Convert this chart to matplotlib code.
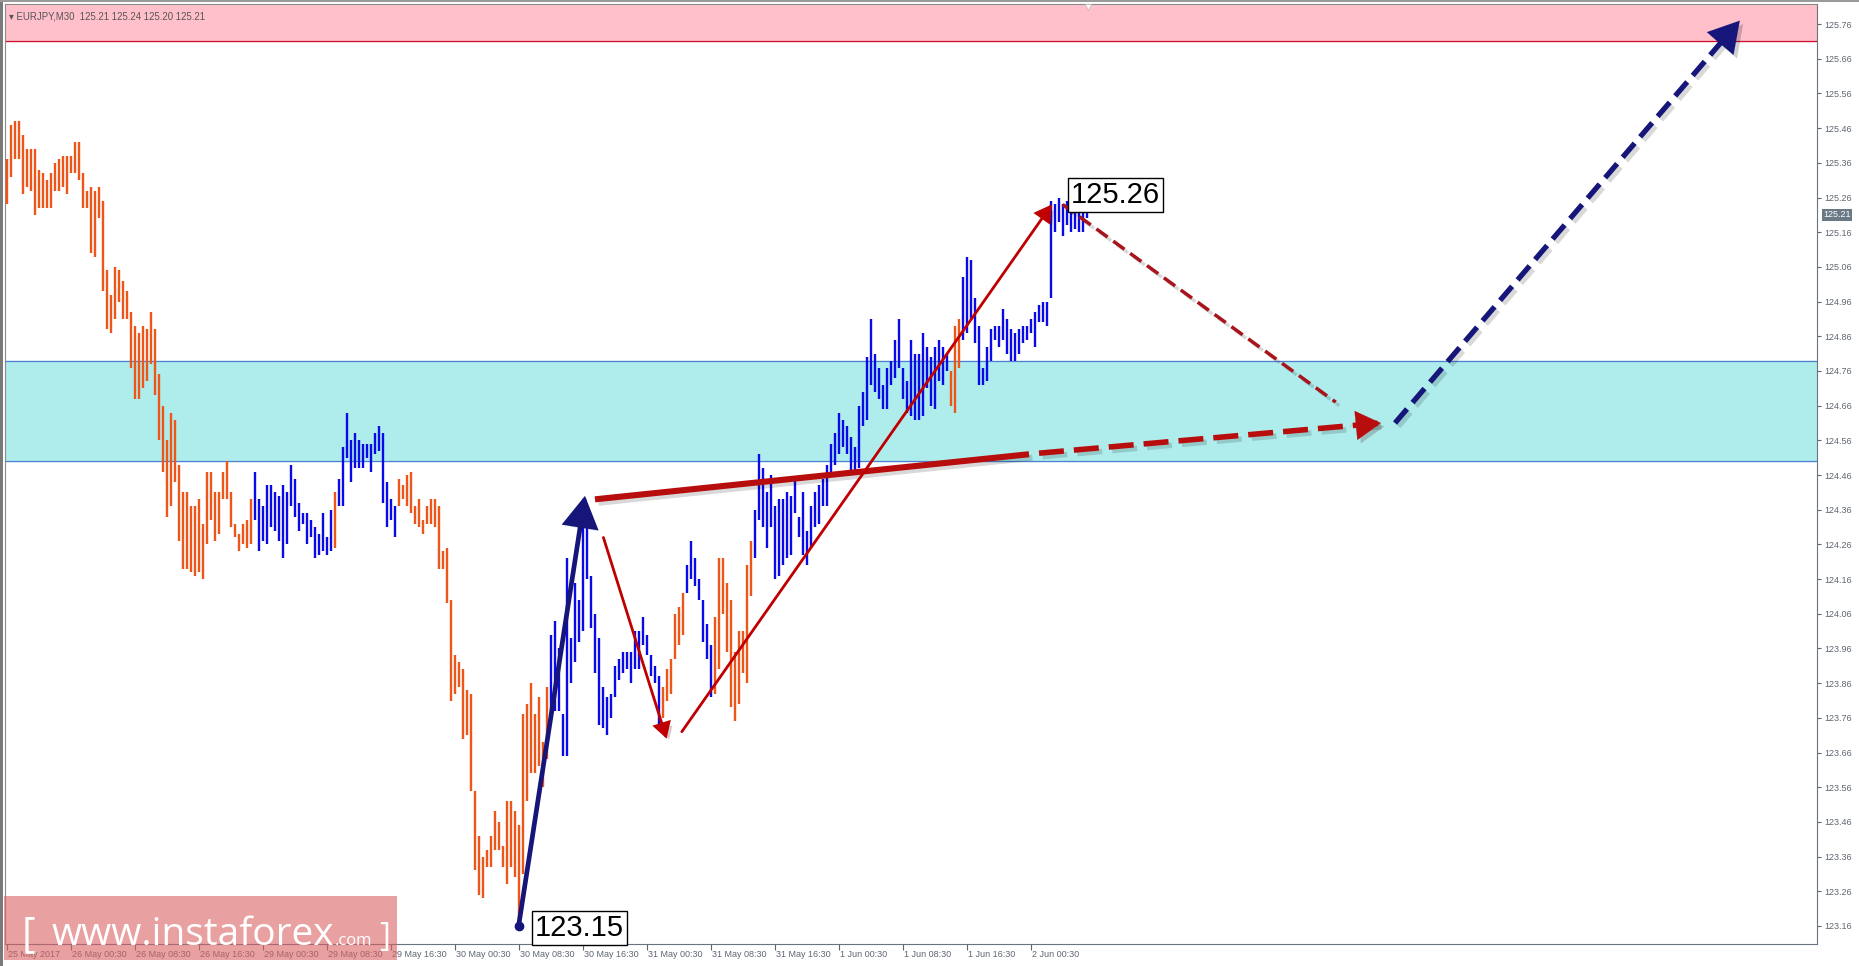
import matplotlib
matplotlib.use("Agg")
import matplotlib.pyplot as plt
import matplotlib.patheffects as pe
from matplotlib.patches import FancyArrowPatch, Rectangle
from matplotlib.transforms import blended_transform_factory

# EURJPY M30 bars (high / low), one per 30 minutes
highs = [125.37, 125.47, 125.48, 125.48, 125.44, 125.40, 125.40, 125.40, 125.34, 125.33,
         125.31, 125.33, 125.36, 125.37, 125.38, 125.38, 125.38, 125.42, 125.42, 125.33,
         125.28, 125.29, 125.28, 125.29, 125.25, 125.05, 124.98, 125.06, 125.05, 125.02,
         124.99, 124.93, 124.89, 124.87, 124.89, 124.88, 124.93, 124.88, 124.75, 124.66,
         124.56, 124.64, 124.62, 124.49, 124.41, 124.41, 124.37, 124.37, 124.39, 124.32,
         124.47, 124.47, 124.41, 124.41, 124.47, 124.50, 124.41, 124.32, 124.29, 124.32,
         124.33, 124.39, 124.47, 124.39, 124.37, 124.43, 124.43, 124.41, 124.40, 124.43,
         124.41, 124.49, 124.45, 124.38, 124.35, 124.35, 124.33, 124.31, 124.29, 124.35,
         124.28, 124.36, 124.41, 124.45, 124.54, 124.64, 124.56, 124.58, 124.56, 124.55,
         124.55, 124.55, 124.58, 124.60, 124.58, 124.44, 124.39, 124.37, 124.45, 124.43,
         124.46, 124.47, 124.37, 124.39, 124.33, 124.37, 124.39, 124.39, 124.37, 124.24,
         124.25, 124.10, 123.94, 123.92, 123.90, 123.84, 123.83, 123.55, 123.42, 123.36,
         123.38, 123.42, 123.49, 123.46, 123.39, 123.52, 123.52, 123.49, 123.45, 123.77,
         123.80, 123.86, 123.77, 123.82, 123.69, 123.85, 124.00, 124.04, 123.96, 123.77,
         124.22, 123.99, 124.15, 124.10, 124.32, 124.37, 124.17, 124.06, 123.99, 123.85,
         123.82, 123.83, 123.91, 123.93, 123.95, 123.95, 123.95, 124.01, 124.01, 124.05,
         124.00, 123.94, 123.91, 123.88, 123.85, 123.90, 123.93, 124.06, 124.08, 124.12,
         124.20, 124.27, 124.22, 124.16, 124.10, 124.03, 123.97, 124.05, 124.22, 124.22,
         124.15, 124.10, 123.95, 124.01, 124.01, 124.20, 124.27, 124.36, 124.52, 124.48,
         124.41, 124.46, 124.37, 124.39, 124.39, 124.41, 124.40, 124.45, 124.34, 124.41,
         124.30, 124.37, 124.41, 124.43, 124.45, 124.49, 124.55, 124.58, 124.64, 124.62,
         124.60, 124.57, 124.54, 124.66, 124.70, 124.80, 124.91, 124.81, 124.77, 124.72,
         124.77, 124.79, 124.85, 124.91, 124.77, 124.73, 124.85, 124.81, 124.81, 124.87,
         124.83, 124.80, 124.83, 124.85, 124.83, 124.81, 124.76, 124.89, 124.91, 125.03,
         125.09, 125.08, 124.97, 124.89, 124.77, 124.83, 124.88, 124.89, 124.89, 124.94,
         124.91, 124.88, 124.87, 124.88, 124.89, 124.89, 124.91, 124.93, 124.95, 124.96,
         124.96, 125.25, 125.24, 125.26, 125.24, 125.25, 125.23, 125.22, 125.22, 125.23,
         125.24]
lows = [125.24, 125.32, 125.37, 125.37, 125.27, 125.29, 125.28, 125.21, 125.23, 125.23,
        125.23, 125.23, 125.28, 125.28, 125.29, 125.27, 125.33, 125.33, 125.31, 125.23,
        125.23, 125.10, 125.09, 125.20, 124.99, 124.88, 124.87, 124.91, 124.96, 124.91,
        124.91, 124.77, 124.68, 124.68, 124.71, 124.73, 124.78, 124.69, 124.56, 124.47,
        124.34, 124.37, 124.44, 124.27, 124.19, 124.19, 124.18, 124.17, 124.18, 124.16,
        124.26, 124.33, 124.27, 124.29, 124.39, 124.39, 124.31, 124.28, 124.24, 124.26,
        124.25, 124.26, 124.33, 124.24, 124.27, 124.26, 124.31, 124.30, 124.27, 124.22,
        124.26, 124.37, 124.34, 124.30, 124.32, 124.26, 124.28, 124.22, 124.23, 124.24,
        124.23, 124.24, 124.25, 124.37, 124.37, 124.51, 124.44, 124.48, 124.48, 124.48,
        124.51, 124.47, 124.52, 124.53, 124.38, 124.31, 124.33, 124.28, 124.37, 124.39,
        124.37, 124.35, 124.32, 124.31, 124.29, 124.32, 124.32, 124.31, 124.19, 124.19,
        124.09, 123.81, 123.83, 123.85, 123.70, 123.71, 123.55, 123.32, 123.25, 123.24,
        123.33, 123.33, 123.38, 123.38, 123.33, 123.28, 123.33, 123.30, 123.16, 123.31,
        123.52, 123.60, 123.60, 123.62, 123.56, 123.64, 123.78, 123.78, 123.78, 123.65,
        123.65, 123.86, 123.92, 123.98, 124.01, 124.16, 124.02, 123.89, 123.74, 123.73,
        123.71, 123.76, 123.82, 123.87, 123.89, 123.90, 123.86, 123.90, 123.90, 123.97,
        123.94, 123.88, 123.86, 123.73, 123.76, 123.81, 123.83, 123.93, 123.97, 124.00,
        124.12, 124.16, 124.14, 124.10, 123.98, 123.93, 123.82, 123.83, 123.90, 124.06,
        123.95, 123.79, 123.75, 123.80, 123.89, 123.86, 124.11, 124.22, 124.33, 124.31,
        124.25, 124.31, 124.16, 124.17, 124.20, 124.22, 124.23, 124.35, 124.28, 124.23,
        124.20, 124.25, 124.31, 124.32, 124.37, 124.37, 124.47, 124.49, 124.52, 124.54,
        124.52, 124.47, 124.47, 124.48, 124.60, 124.62, 124.72, 124.70, 124.68, 124.65,
        124.65, 124.72, 124.74, 124.77, 124.68, 124.64, 124.63, 124.62, 124.62, 124.63,
        124.71, 124.66, 124.65, 124.73, 124.72, 124.76, 124.66, 124.64, 124.77, 124.85,
        124.87, 124.91, 124.84, 124.72, 124.72, 124.73, 124.79, 124.85, 124.83, 124.85,
        124.81, 124.79, 124.79, 124.81, 124.84, 124.85, 124.87, 124.83, 124.90, 124.90,
        124.89, 124.97, 125.16, 125.19, 125.15, 125.18, 125.16, 125.17, 125.16, 125.16,
        125.20]

# zigzag colouring: bar index where each leg starts, and its direction
seg_start = [0, 62, 82, 83, 98, 136, 164, 170, 177, 187, 236, 239]
seg_up = [False, True, False, True, False, True, False, True, False, True, False, True]

time_labels = ["25 May 2017", "26 May 00:30", "26 May 08:30", "26 May 16:30",
               "29 May 00:30", "29 May 08:30", "29 May 16:30", "30 May 00:30",
               "30 May 08:30", "30 May 16:30", "31 May 00:30", "31 May 08:30",
               "31 May 16:30", "1 Jun 00:30", "1 Jun 08:30", "1 Jun 16:30", "2 Jun 00:30"]
price_ticks = [123.16, 123.26, 123.36, 123.46, 123.56, 123.66, 123.76, 123.86, 123.96,
               124.06, 124.16, 124.26, 124.36, 124.46, 124.56, 124.66, 124.76, 124.86,
               124.96, 125.06, 125.16, 125.26, 125.36, 125.46, 125.56, 125.66, 125.76]

resist_zone = (125.71, 125.90)
support_zone = (124.50, 124.79)
last_price = 125.21

# wave markup: (bar index, price)
wave_low = (128, 123.16)
wave_a_top = (144.6, 124.40)
wave_b_start, wave_b_end = (149.2, 124.28), (165.0, 123.70)
wave_c_start, wave_c_end = (168.8, 123.72), (261.3, 125.24)
trend_start, trend_mid, trend_end = (147.1, 124.39), (255.6, 124.52), (343.6, 124.61)
corr_start, corr_end = (264.0, 125.24), (332.3, 124.67)
target_start, target_end = (347.1, 124.61), (433.3, 125.77)
label_high = (266.1, 125.267, "125.26")
label_low = (132.1, 123.153, "123.15")

ORANGE = "#EE5519"
BLUE = "#0A0AE8"
RED = "#B80D0D"
NAVY = "#15157A"
GREY = "#5E6670"
FONT = ["Liberation Sans", "DejaVu Sans"]

W, H = 1859, 966
fig = plt.figure(figsize=(W / 100, H / 100), dpi=100)
fig.patch.set_facecolor("white")
ax = fig.add_axes([5 / W, 22 / H, 1812 / W, 940 / H])
ax.set_xlim(-0.4, 452.6)
ax.set_ylim(123.108, 125.818)

ax.axhspan(*resist_zone, color="#FFC0CB", zorder=0)
ax.axhline(resist_zone[0], color="#C8102E", lw=0.9, zorder=1)
ax.axhspan(*support_zone, color="#AFEDED", zorder=0)
for v in support_zone:
    ax.axhline(v, color="#4F7FD0", lw=0.9, zorder=1)

colors = []
for i in range(len(highs)):
    seg = max(j for j, s in enumerate(seg_start) if s <= i)
    colors.append(BLUE if seg_up[seg] else ORANGE)
ax.vlines(range(len(highs)), lows, highs, colors=colors, linewidth=1.7, zorder=3)

shadow = [pe.SimpleLineShadow(offset=(2.5, -2.5), alpha=0.15), pe.Normal()]
pshadow = [pe.SimplePatchShadow(offset=(2.5, -2.5), alpha=0.2), pe.Normal()]


def arrow(a, b, color, lw, scale, hl=0.6, hw=0.35):
    p = FancyArrowPatch(a, b, arrowstyle=f"-|>,head_length={hl},head_width={hw}",
                        mutation_scale=scale, color=color, lw=lw, shrinkA=0, shrinkB=0,
                        zorder=6, joinstyle="miter")
    p.set_path_effects(pshadow)
    ax.add_patch(p)


def head(a, b, color, scale, hl=0.6, hw=0.35):
    # short solid segment at the end of a dashed line, only to carry the head
    t = 0.04
    near = (b[0] - (b[0] - a[0]) * t, b[1] - (b[1] - a[1]) * t)
    arrow(near, b, color, 0.1, scale, hl, hw)


# impulse from the low
arrow(wave_low, wave_a_top, NAVY, 3.4, 30)
ax.plot(*wave_low, "o", color=NAVY, ms=6, zorder=7)
# small down leg and big up leg
arrow(wave_b_start, wave_b_end, "#C00000", 2.0, 15)
arrow(wave_c_start, wave_c_end, "#C00000", 2.0, 16)
# thick trend line and its dashed extension
ax.plot([trend_start[0], trend_mid[0]], [trend_start[1], trend_mid[1]], color=RED, lw=4.4,
        solid_capstyle="butt", zorder=5, path_effects=shadow)
ax.plot([trend_mid[0] + 2.5, trend_end[0]], [trend_mid[1] + 0.003, trend_end[1]], color=RED, lw=4.0,
        dashes=(4.5, 1.8), zorder=5, path_effects=shadow)
head(trend_start, trend_end, RED, 30)
# expected pullback
ax.plot([corr_start[0], corr_end[0]], [corr_start[1], corr_end[1]], color="#A8141C", lw=2.5,
        dashes=(4, 2), zorder=5, path_effects=shadow)
# expected rise
ax.plot([target_start[0], target_end[0] - 3], [target_start[1], target_end[1] - 0.04], color=NAVY,
        lw=3.8, dashes=(3.5, 1.6), zorder=5, path_effects=shadow)
head(target_start, target_end, NAVY, 36)

for k, p, s in (label_high, label_low):
    ax.text(k, p, s, fontsize=21, family=FONT, ha="left", va="center", color="black", zorder=8,
            bbox=dict(boxstyle="square,pad=0.1", fc="white", ec="black", lw=1.0))

# the chart-shift marker at the top
ax.plot(270.3, 125.81, marker="v", ms=5, color="white", mec="#C0C0C0", mew=0.6,
        zorder=8, clip_on=False)

# axes look of the trading terminal
for s in ("left", "top"):
    ax.spines[s].set_color("#8A8A8A")
for s in ("right", "bottom"):
    ax.spines[s].set_color("#6A7480")
ax.yaxis.tick_right()
ax.set_yticks(price_ticks)
ax.set_yticklabels([f"{v:.2f}" for v in price_ticks], fontsize=6.5, family=FONT, color=GREY)
ax.tick_params(axis="y", length=3, width=0.8, color=GREY, pad=2)
ticks_x = [16 * i for i in range(len(time_labels))]
ax.set_xticks(ticks_x)
ax.set_xticklabels([])
ax.tick_params(axis="x", length=4, width=0.8, color=GREY)
trans = blended_transform_factory(ax.transData, ax.transAxes)
for k, s in zip(ticks_x, time_labels):
    ax.text(k + 0.4, -0.0115, s, transform=trans, fontsize=6.5, family=FONT, color=GREY,
            ha="left", va="center", clip_on=False)

ax.text(1.0035, last_price, f"{last_price:.2f}", transform=blended_transform_factory(ax.transAxes, ax.transData),
        fontsize=6.5, family=FONT, color="white", ha="left", va="center", zorder=9,
        bbox=dict(boxstyle="square,pad=0.15", fc="#6B7886", ec="none"))

ax.text(0.002, 0.992, "\u25be EURJPY,M30  125.21 125.24 125.20 125.21", transform=ax.transAxes,
        fontsize=6.9, family=FONT, color="#555555", ha="left", va="top")

# window frame
fig.add_artist(Rectangle((0, 0), 3 / W, 1, transform=fig.transFigure, color="#7A7A7A", lw=0))
fig.add_artist(Rectangle((0, 1 - 2 / H), 1, 2 / H, transform=fig.transFigure, color="#9A9A9A", lw=0))

# instaforex watermark (translucent, the axis labels show through)
fig.add_artist(Rectangle((4 / W, 6 / H), 393 / W, 64 / H, transform=fig.transFigure,
                         color="#D96161", alpha=0.6, lw=0, zorder=10))
fig.text(22 / W, 20 / H, "[", fontsize=30, family="Open Sans", color="white", zorder=11,
         va="baseline")
main = fig.text(52 / W, 21 / H, "www.instaforex", fontsize=28, family="Open Sans", color="white",
                zorder=11, va="baseline")
fig.canvas.draw()
end_x = main.get_window_extent().x1
dotcom = fig.text(end_x / W, 21 / H, ".com", fontsize=12, family="Open Sans", color="white",
                  zorder=11, va="baseline")
fig.canvas.draw()
end_x = dotcom.get_window_extent().x1
fig.text((end_x + 7) / W, 20 / H, "]", fontsize=24, family="Open Sans", color="white", zorder=11,
         va="baseline")

fig.savefig("out.png", dpi=100, facecolor="white")
